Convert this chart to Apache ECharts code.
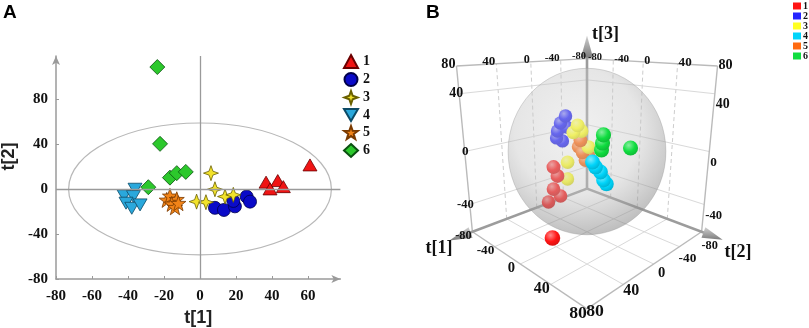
<!DOCTYPE html>
<html>
<head>
<meta charset="utf-8">
<script src="https://cdn.jsdelivr.net/npm/echarts@6/dist/echarts.min.js"></script>
<style>html,body{margin:0;padding:0;background:#fff}#chart{width:809px;height:328px}</style>
</head>
<body>
<div id="chart"></div>
<script>
// ---------------- DATA ----------------
const groupNames = ['1', '2', '3', '4', '5', '6'];

// Panel A : scores t[1], t[2]
const scoresA_1 = [[61.1, 21.3], [36.7, 6.0], [43.2, 7.4], [38.9, 0.0], [46.3, 2.0]];
const scoresA_2 = [[8.3, -16.8], [13.3, -18.7], [19.4, -15.5], [18.5, -10.7], [25.9, -6.8], [27.8, -11.3]];
const scoresA_3 = [[6.1, 14.0], [8.3, -0.3], [13.9, -6.8], [18.5, -5.3], [-1.9, -11.3], [3.3, -11.8]];
const scoresA_4 = [[-36.1, -0.3], [-42.2, -6.2], [-37.0, -6.8], [-41.1, -12.7], [-37.9, -17.2], [-33.3, -14.2]];
const scoresA_5 = [[-18.5, -9.8], [-16.7, -6.2], [-12.9, -9.2], [-15.7, -13.3], [-13.9, -16.3], [-12.0, -12.7]];
const scoresA_6 = [[-23.7, 108.2], [-22.2, 40.0], [-28.7, 1.5], [-16.7, 10.0], [-12.9, 14.0], [-7.9, 15.1]];
const ellipseA = [73, 58.5];                 // Hotelling T2 ellipse semi-axes (t[1], t[2])
const xTicksA = [-80, -60, -40, -20, 0, 20, 40, 60];
const yTicksA = [-80, -40, 0, 40, 80];
const axisMaxA = [78, 118];

// Panel B : scores t[1], t[2], t[3]
const scoresB_1 = [[-12.9, 29.9, -8.3], [-10.5, 27.5, -14.7], [-13.3, 30.3, -24.3], [-8.8, 25.8, -29.5], [-16.8, 33.8, -34.0], [25.5, 65.0, -40.4]];
const scoresB_2 = [[-22.6, 5.7, 23.2], [-26.0, 9.1, 18.2], [-28.1, 11.2, 12.5], [-28.9, 11.9, 7.4], [-24.9, 8.0, 5.2], [-22.1, 5.1, 15.4]];
const scoresB_3 = [[-5.0, 7.0, 18.8], [-8.0, 9.5, 13.9], [-3.5, 3.5, 14.6], [1.5, -0.5, 3.3], [-12.0, 13.5, -7.6], [-13.0, 13.0, -20.3]];
const scoresB_4 = [[25.9, 19.3, 0.2], [27.7, 17.5, -3.1], [30.8, 14.5, -6.5], [32.6, 12.6, -12.0], [34.5, 10.8, -14.7]];
const scoresB_5 = [[-3.5, 5.0, 8.3], [-6.0, 5.0, 3.3], [-2.0, 3.8, -0.3], [0.5, -1.5, -3.2], [-0.5, 1.5, -6.2]];
const scoresB_6 = [[32.3, 13.0, 17.9], [31.8, 13.5, 12.7], [31.2, 14.0, 8.2], [48.4, -3.1, 9.5]];
const ellipsoidB = [73, 73, 60];             // T2 ellipsoid semi-axes
const ticksB12 = [-80, -40, 0, 40, 80];
const ticksB3 = [-40, 0, 40];
const boxB = { t1: [-80, 80], t2: [-80, 80], t3: [-62, 58] };

// ---------------- STYLES ----------------
const serif = '"Liberation Serif","Times New Roman",serif';
const sans = '"Liberation Sans",Arial,sans-serif';
const star4 = 'path://M10,0 L12.6,7.4 L20,10 L12.6,12.6 L10,20 L7.4,12.6 L0,10 L7.4,7.4 Z';
const star5 = 'path://M10,0 L12.35,6.76 L19.51,6.91 L13.8,11.24 L15.88,18.09 L10,14 L4.12,18.09 L6.2,11.24 L0.49,6.91 L7.65,6.76 Z';
const downTri = 'path://M0,0 L20,0 L10,17 Z';
const styleA = [
  { symbol: 'triangle', size: [14, 12], color: '#f01414', border: '#6a0000' },
  { symbol: 'circle', size: 13, color: '#0a0ac8', border: '#00004a' },
  { symbol: star4, size: 15, color: '#f2e22a', border: '#6a6000' },
  { symbol: downTri, size: [14, 12], color: '#2aa8dc', border: '#0c4a66' },
  { symbol: star5, size: 15, color: '#f28418', border: '#7a3a00' },
  { symbol: 'diamond', size: 15, color: '#2cc82c', border: '#0a5010' }
];
const colorsB = ['#ff1414', '#2424ff', '#ffff22', '#00d4fa', '#ff6a10', '#10dd40'];

const VIEW = { elev: 17, dist: 4.5, scale: 86.3, cx: 587, cy: 154.3 };

function proj(t1, t2, t3) {
  const norm = (v, r) => 2 * (v - r[0]) / (r[1] - r[0]) - 1;
  const u = norm(t1, boxB.t1), v = norm(t2, boxB.t2), w = norm(t3, boxB.t3);
  const X = (u - v) / Math.SQRT2, D = (u + v) / Math.SQRT2;
  const e = VIEW.elev * Math.PI / 180, A = Math.sin(e), B = Math.cos(e);
  const yUp = w * B - D * A, z = w * A + D * B;
  const f = VIEW.dist / (VIEW.dist - z);
  return { x: VIEW.cx + X * VIEW.scale * f, y: VIEW.cy - yUp * VIEW.scale * f, f: f, z: z };
}

function hexRgb(h) { return [1, 3, 5].map(i => parseInt(h.substr(i, 2), 16)); }
function mix(h, t, to) {
  to = to || [255, 255, 255];
  const c = hexRgb(h);
  return 'rgb(' + c.map((v, i) => Math.round(v + (to[i] - v) * t)).join(',') + ')';
}

// ---------------- RENDERERS ----------------
function renderEllipseA(params, api) {
  const c = api.coord([0, 0]);
  const rx = api.coord([ellipseA[0], 0])[0] - c[0];
  const ry = c[1] - api.coord([0, ellipseA[1]])[1];
  return { type: 'ellipse', shape: { cx: c[0], cy: c[1], rx: rx, ry: ry },
    style: { fill: 'none', stroke: '#b8b8b8', lineWidth: 1.2 } };
}

function renderBox(params, api) {
  const P = (a, b, c) => { const p = proj(a, b, c); const q = api.coord([p.x, p.y]); return { x: q[0], y: q[1], f: p.f }; };
  const [x0, x1] = boxB.t1, [y0, y1] = boxB.t2, [z0, z1] = boxB.t3;
  const kids = [];
  const line = (a, b, style, z2) => kids.push({ type: 'line', z2: z2 || 1, shape: { x1: a.x, y1: a.y, x2: b.x, y2: b.y }, style: style });
  const gridS = { stroke: '#d9d9d9', lineWidth: 1 };
  const dashS = { stroke: '#cdcdcd', lineWidth: 1, lineDash: [4, 3] };
  const edgeS = { stroke: '#bababa', lineWidth: 1.4 };
  const axisS = { stroke: '#9c9c9c', lineWidth: 2.6 };
  // floor grid
  ticksB12.forEach(t => {
    if (t > x0 && t < x1) line(P(t, y0, z0), P(t, y1, z0), gridS);
    if (t > y0 && t < y1) line(P(x0, t, z0), P(x1, t, z0), gridS);
  });
  // left wall (t1 = min)
  ticksB12.forEach(t => { if (t > y0 && t < y1) line(P(x0, t, z0), P(x0, t, z1), dashS); });
  ticksB3.forEach(t => line(P(x0, y0, t), P(x0, y1, t), gridS));
  // right wall (t2 = min)
  ticksB12.forEach(t => { if (t > x0 && t < x1) line(P(t, y0, z0), P(t, y0, z1), dashS); });
  ticksB3.forEach(t => line(P(x0, y0, t), P(x1, y0, t), gridS));
  // box edges
  line(P(x0, y1, z0), P(x1, y1, z0), edgeS, 2);
  line(P(x1, y0, z0), P(x1, y1, z0), edgeS, 2);
  line(P(x0, y1, z0), P(x0, y1, z1), edgeS, 2);
  line(P(x1, y0, z0), P(x1, y0, z1), edgeS, 2);
  line(P(x0, y1, z1), P(x0, y0, z1), edgeS, 2);
  line(P(x0, y0, z1), P(x1, y0, z1), edgeS, 2);
  // axes with cones
  const origin = P(x0, y0, z0);
  const cone = (b, t, w) => {
    const dx = t.x - b.x, dy = t.y - b.y, L = Math.hypot(dx, dy);
    const nx = -dy / L * w, ny = dx / L * w;
    kids.push({ type: 'polygon', z2: 4, shape: { points: [[b.x + nx, b.y + ny], [t.x, t.y], [b.x - nx, b.y - ny]] },
      style: { fill: new echarts.graphic.LinearGradient(0, 0, 0, 1, [{ offset: 0, color: '#d0d0d0' }, { offset: 1, color: '#7c7c7c' }]) } });
  };
  const tip1 = P(x0, y1 + 24, z0), tip2 = P(x1 + 22, y0, z0), tip3 = P(x0, y0, z1 + 19);
  line(origin, P(x0, y1 + 14, z0), axisS, 3);
  line(origin, P(x1 + 14, y0, z0), axisS, 3);
  line(origin, P(x0, y0, z1 + 8), axisS, 3);
  cone(P(x0, y1 + 2, z0), tip1, 5.5);
  cone(P(x1 + 2, y0, z0), tip2, 5.5);
  cone(P(x0, y0, z1 + 1), tip3, 6);
  // tick labels
  const label = (txt, x, y, align, f) => kids.push({ type: 'text', z2: 6, x: x, y: y,
    style: { text: String(txt), fill: '#111', font: 'bold ' + (13.2 * Math.pow(f, 1.1)).toFixed(1) + 'px ' + serif,
      align: align, textAlign: align, verticalAlign: 'middle', textVerticalAlign: 'middle' } });
  ticksB12.forEach(t => { const p = P(x0, t, z1); label(t, p.x - 1, p.y - 2, 'right', p.f); });
  ticksB12.forEach(t => { const p = P(t, y0, z1); label(t, p.x + 1, p.y - 1, 'left', p.f); });
  ticksB3.forEach(t => { const p = P(x0, y1, t); label(t, p.x + 4, p.y, 'right', p.f); });
  ticksB3.forEach(t => { const p = P(x1, y0, t); label(t, p.x + 1, p.y + 11, 'left', p.f); });
  ticksB12.forEach(t => { const p = P(t, y1, z0); label(t, p.x - 9, p.y + 4, 'center', p.f); });
  ticksB12.forEach(t => { const p = P(x1, t, z0); label(t, p.x + 8, p.y + 12 - (p.f - 1) * 30, 'center', p.f); });
  // axis names
  const name = (txt, x, y, align) => kids.push({ type: 'text', z2: 6, x: x, y: y,
    style: { text: txt, fill: '#111', font: 'bold 18px ' + serif, align: align, textAlign: align, verticalAlign: 'middle', textVerticalAlign: 'middle' } });
  name('t[1]', tip1.x + 3, tip1.y + 8, 'right');
  name('t[2]', tip2.x + 2, tip2.y + 13, 'left');
  name('t[3]', tip3.x + 5, tip3.y - 1, 'left');
  return { type: 'group', children: kids };
}

function renderSphere(params, api) {
  const c = proj(0, 0, 0);
  const a = ellipsoidB[0] / Math.SQRT2;
  const side = proj(a, -a, 0), top = proj(0, 0, ellipsoidB[2]), bot = proj(0, 0, -ellipsoidB[2]);
  const C = api.coord([c.x, c.y]);
  const rx = api.coord([side.x, side.y])[0] - C[0];
  const ry = (api.coord([bot.x, bot.y])[1] - api.coord([top.x, top.y])[1]) / 2;
  return { type: 'ellipse', z2: 20, shape: { cx: C[0], cy: C[1], rx: rx, ry: ry },
    style: { fill: new echarts.graphic.RadialGradient(0.44, 0.38, 0.66, [
      { offset: 0, color: 'rgba(215,215,215,0.36)' },
      { offset: 0.6, color: 'rgba(195,195,195,0.42)' },
      { offset: 1, color: 'rgba(130,130,130,0.52)' }]),
      stroke: 'rgba(150,150,150,0.35)', lineWidth: 1 } };
}

function makePointRenderer(color) {
  const light = mix(color, 0.5), dark = mix(color, 0.18, [0, 0, 0]);
  return function (params, api) {
    const p = proj(api.value(0), api.value(1), api.value(2));
    const q = api.coord([p.x, p.y]);
    const front = p.z > 0.25;
    return { type: 'circle', z2: (front ? 30 : 10) + p.z * 5, shape: { cx: q[0], cy: q[1], r: 6.8 * p.f },
      style: { fill: new echarts.graphic.RadialGradient(0.38, 0.32, 0.75, [
        { offset: 0, color: light }, { offset: 0.55, color: color }, { offset: 1, color: dark }]) } };
  };
}

// ---------------- OPTION ----------------
const scoresA = [scoresA_1, scoresA_2, scoresA_3, scoresA_4, scoresA_5, scoresA_6];
const scoresB = [scoresB_1, scoresB_2, scoresB_3, scoresB_4, scoresB_5, scoresB_6];

const axisLineA = { show: true, onZero: false, symbol: ['none', 'arrow'], symbolSize: [6, 9], lineStyle: { color: '#9a9a9a', width: 1.5 } };
const axisLabelA = { showMaxLabel: false, fontFamily: serif, fontWeight: 'bold', fontSize: 15, color: '#111' };

const seriesA = [{
  type: 'custom', name: 'T2', xAxisIndex: 0, yAxisIndex: 0, data: [[0, 0]], renderItem: renderEllipseA, silent: true, z: 1
}].concat(scoresA.map((d, i) => ({
  type: 'scatter', name: groupNames[i], xAxisIndex: 0, yAxisIndex: 0, data: d,
  symbol: styleA[i].symbol, symbolSize: styleA[i].size,
  itemStyle: { color: styleA[i].color, borderColor: styleA[i].border, borderWidth: 0.8, opacity: 1 },
  z: 3,
  markLine: i === 0 ? { silent: true, symbol: 'none', label: { show: false }, animation: false,
    lineStyle: { color: '#9a9a9a', width: 1.3, type: 'solid' }, data: [{ xAxis: 0 }, { yAxis: 0 }] } : undefined
})));

const seriesB = [
  { type: 'custom', name: 'box', xAxisIndex: 1, yAxisIndex: 1, data: [[0, 0]], renderItem: renderBox, silent: true },
  { type: 'custom', name: 'sphere', xAxisIndex: 1, yAxisIndex: 1, data: [[0, 0]], renderItem: renderSphere, silent: true }
].concat(scoresB.map((d, i) => ({
  type: 'custom', name: 'B' + groupNames[i], xAxisIndex: 1, yAxisIndex: 1, data: d,
  itemStyle: { color: colorsB[i] }, renderItem: makePointRenderer(colorsB[i]), silent: true
})));

const option = {
  animation: false,
  backgroundColor: '#ffffff',
  graphic: [
    { type: 'text', left: 3, top: 3, style: { text: 'A', font: 'bold 19px ' + sans, fill: '#000' } },
    { type: 'text', left: 426, top: 3, style: { text: 'B', font: 'bold 19px ' + sans, fill: '#000' } }
  ],
  legend: [
    { data: groupNames, orient: 'vertical', left: 343, top: 54, padding: 0, itemWidth: 14, itemHeight: 13, itemGap: 3,
      selectedMode: false, textStyle: { fontFamily: serif, fontWeight: 'bold', fontSize: 14, color: '#111' } },
    { data: groupNames.map(n => 'B' + n), formatter: n => n.slice(1), orient: 'vertical', right: 0, top: 0,
      padding: 1, icon: 'rect', itemWidth: 8, itemHeight: 7, itemGap: 0, selectedMode: false,
      textStyle: { fontFamily: serif, fontWeight: 'bold', fontSize: 10, lineHeight: 10, color: '#111', padding: [0, 0, 0, -3] } }
  ],
  grid: [
    { left: 56, top: 56, right: 468.6, bottom: 49, containLabel: false, outerBoundsMode: 'none' },
    { left: 0, top: 0, right: 0, bottom: 0, containLabel: false, outerBoundsMode: 'none' }
  ],
  xAxis: [
    { gridIndex: 0, type: 'value', min: xTicksA[0], max: axisMaxA[0], interval: xTicksA[1] - xTicksA[0],
      axisLine: axisLineA, axisTick: { show: true, inside: true, length: 3, lineStyle: { color: '#9a9a9a' } },
      axisLabel: Object.assign({ margin: 10 }, axisLabelA), splitLine: { show: false },
      name: 't[1]', nameLocation: 'middle', nameGap: 29,
      nameTextStyle: { fontFamily: sans, fontWeight: 'bold', fontSize: 18, color: '#222' } },
    { gridIndex: 1, type: 'value', min: 0, max: 809, show: false }
  ],
  yAxis: [
    { gridIndex: 0, type: 'value', min: yTicksA[0], max: axisMaxA[1], interval: yTicksA[1] - yTicksA[0],
      axisLine: axisLineA, axisTick: { show: true, inside: true, length: 3, lineStyle: { color: '#9a9a9a' } },
      axisLabel: Object.assign({ margin: 8 }, axisLabelA), splitLine: { show: false },
      name: 't[2]', nameLocation: 'middle', nameGap: 38,
      nameTextStyle: { fontFamily: sans, fontWeight: 'bold', fontSize: 18, color: '#222', padding: [0, 0, 0, 22] } },
    { gridIndex: 1, type: 'value', min: 0, max: 328, inverse: true, show: false }
  ],
  series: seriesA.concat(seriesB)
};

const chart = echarts.init(document.getElementById('chart'), null, { renderer: 'canvas' });
chart.setOption(option);
</script>
</body>
</html>
